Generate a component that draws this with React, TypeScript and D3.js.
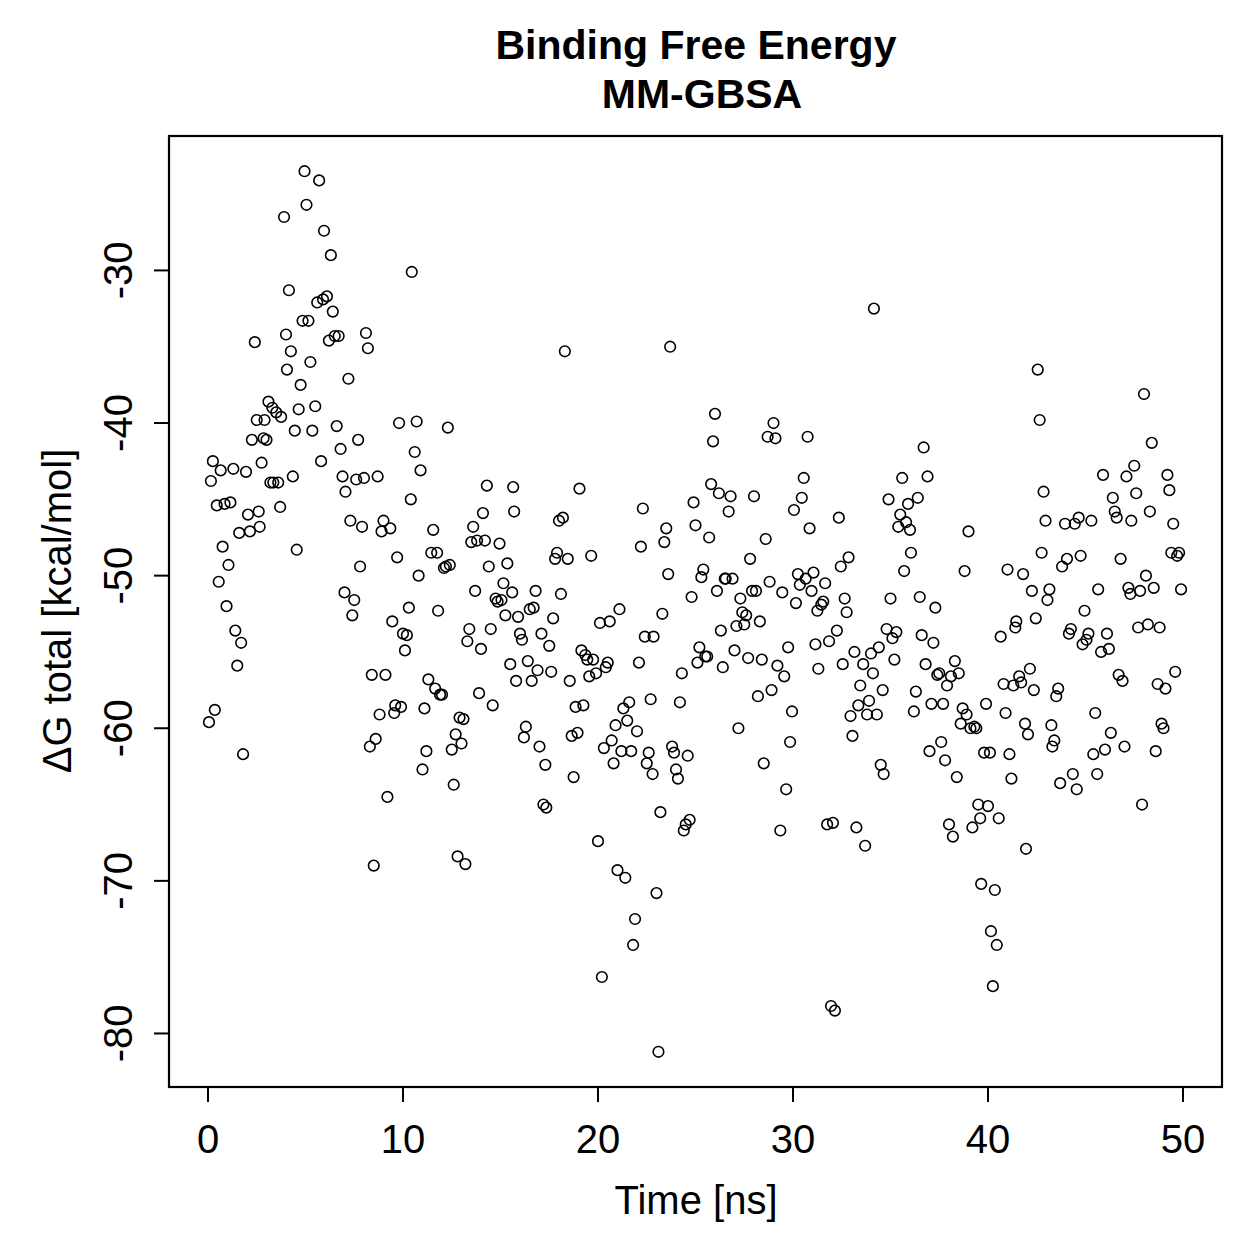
import React from "react";
import * as d3 from "d3";

// time (ns) and binding energy (kcal/mol)
const timeNs = [
  0.05, 0.15, 0.25, 0.35, 0.45, 0.55, 0.65, 0.75, 0.85, 0.95,
  1.05, 1.15, 1.3, 1.4, 1.5, 1.6, 1.7, 1.8, 1.95, 2.05,
  2.15, 2.25, 2.4, 2.5, 2.6, 2.65, 2.75, 2.85, 2.9, 3.0,
  3.1, 3.2, 3.3, 3.35, 3.5, 3.6, 3.7, 3.75, 3.9, 4.0,
  4.05, 4.15, 4.25, 4.35, 4.45, 4.55, 4.65, 4.75, 4.85, 4.95,
  5.05, 5.15, 5.25, 5.35, 5.5, 5.6, 5.7, 5.8, 5.9, 5.95,
  6.1, 6.2, 6.3, 6.4, 6.5, 6.6, 6.7, 6.8, 6.9, 7.0,
  7.05, 7.2, 7.3, 7.4, 7.5, 7.6, 7.7, 7.8, 7.9, 8.0,
  8.1, 8.2, 8.3, 8.4, 8.5, 8.6, 8.7, 8.8, 8.9, 9.0,
  9.1, 9.2, 9.35, 9.45, 9.55, 9.6, 9.7, 9.8, 9.9, 10.0,
  10.1, 10.2, 10.3, 10.4, 10.45, 10.6, 10.7, 10.8, 10.9, 11.0,
  11.1, 11.2, 11.3, 11.45, 11.55, 11.65, 11.75, 11.8, 11.9, 12.0,
  12.1, 12.2, 12.3, 12.4, 12.5, 12.6, 12.7, 12.8, 12.9, 13.0,
  13.1, 13.2, 13.3, 13.4, 13.5, 13.6, 13.7, 13.8, 13.9, 14.0,
  14.1, 14.2, 14.3, 14.4, 14.5, 14.6, 14.75, 14.85, 14.95, 15.05,
  15.15, 15.25, 15.35, 15.5, 15.6, 15.65, 15.7, 15.8, 15.9, 16.0,
  16.1, 16.2, 16.3, 16.4, 16.5, 16.6, 16.7, 16.8, 16.9, 17.0,
  17.1, 17.2, 17.3, 17.35, 17.5, 17.6, 17.7, 17.8, 17.9, 18.0,
  18.1, 18.2, 18.3, 18.45, 18.55, 18.65, 18.75, 18.85, 18.95, 19.05,
  19.15, 19.25, 19.35, 19.45, 19.55, 19.65, 19.75, 19.9, 20.0, 20.1,
  20.2, 20.3, 20.4, 20.5, 20.6, 20.7, 20.8, 20.9, 21.0, 21.1,
  21.2, 21.3, 21.4, 21.5, 21.6, 21.7, 21.8, 21.9, 22.0, 22.1,
  22.2, 22.3, 22.4, 22.5, 22.6, 22.7, 22.8, 22.85, 23.0, 23.1,
  23.2, 23.3, 23.4, 23.5, 23.6, 23.7, 23.8, 23.9, 24.0, 24.1,
  24.2, 24.3, 24.4, 24.5, 24.6, 24.7, 24.8, 24.9, 25.0, 25.1,
  25.2, 25.3, 25.4, 25.5, 25.6, 25.7, 25.8, 25.9, 26.0, 26.1,
  26.2, 26.3, 26.4, 26.5, 26.55, 26.7, 26.8, 26.9, 27.0, 27.1,
  27.2, 27.3, 27.4, 27.5, 27.6, 27.7, 27.8, 27.9, 28.0, 28.1,
  28.2, 28.3, 28.4, 28.5, 28.6, 28.7, 28.8, 28.9, 29.0, 29.1,
  29.2, 29.35, 29.45, 29.55, 29.65, 29.75, 29.85, 29.95, 30.05, 30.15,
  30.25, 30.35, 30.45, 30.55, 30.65, 30.75, 30.85, 30.95, 31.05, 31.15,
  31.25, 31.3, 31.45, 31.55, 31.65, 31.75, 31.85, 31.95, 32.05, 32.15,
  32.25, 32.35, 32.45, 32.55, 32.65, 32.75, 32.85, 32.95, 33.05, 33.15,
  33.25, 33.35, 33.45, 33.6, 33.7, 33.8, 33.9, 34.0, 34.1, 34.15,
  34.3, 34.4, 34.5, 34.6, 34.65, 34.8, 34.9, 35.0, 35.1, 35.2,
  35.3, 35.4, 35.5, 35.6, 35.7, 35.8, 35.9, 36.0, 36.05, 36.2,
  36.3, 36.4, 36.5, 36.6, 36.7, 36.8, 36.9, 37.0, 37.1, 37.2,
  37.3, 37.4, 37.5, 37.6, 37.7, 37.8, 37.9, 38.0, 38.1, 38.2,
  38.3, 38.4, 38.5, 38.6, 38.7, 38.8, 38.9, 39.0, 39.1, 39.2,
  39.3, 39.4, 39.5, 39.6, 39.65, 39.8, 39.9, 40.0, 40.1, 40.15,
  40.25, 40.35, 40.45, 40.55, 40.65, 40.8, 40.9, 41.0, 41.1, 41.2,
  41.3, 41.4, 41.45, 41.6, 41.7, 41.8, 41.9, 41.95, 42.05, 42.15,
  42.25, 42.35, 42.45, 42.55, 42.65, 42.75, 42.85, 42.95, 43.05, 43.15,
  43.25, 43.3, 43.4, 43.5, 43.6, 43.7, 43.8, 43.95, 44.05, 44.15,
  44.25, 44.35, 44.45, 44.55, 44.65, 44.75, 44.85, 44.95, 45.05, 45.15,
  45.3, 45.4, 45.5, 45.6, 45.65, 45.8, 45.9, 46.0, 46.1, 46.2,
  46.3, 46.4, 46.5, 46.6, 46.7, 46.8, 46.9, 47.0, 47.1, 47.2,
  47.3, 47.35, 47.5, 47.6, 47.7, 47.8, 47.9, 48.0, 48.1, 48.2,
  48.3, 48.4, 48.5, 48.6, 48.7, 48.8, 48.9, 49.0, 49.1, 49.2,
  49.3, 49.4, 49.5, 49.6, 49.7, 49.8, 49.9,
];

const deltaG = [
  -59.6, -43.8, -42.5, -58.8, -45.4, -50.4, -43.1, -48.1, -45.3, -52.0,
  -49.3, -45.2, -43.0, -53.6, -55.9, -47.2, -54.4, -61.7, -43.2, -46.0,
  -47.1, -41.1, -34.7, -39.8, -45.8, -46.8, -42.6, -41.0, -39.8, -41.1,
  -38.6, -43.9, -39.0, -43.9, -39.3, -43.9, -45.5, -39.6, -26.5, -34.2,
  -36.5, -31.3, -35.3, -43.5, -40.5, -48.3, -39.1, -37.5, -33.3, -23.5,
  -25.7, -33.3, -36.0, -40.5, -38.9, -32.1, -24.1, -42.5, -31.9, -27.4,
  -31.7, -34.6, -29.0, -32.7, -34.3, -40.2, -34.3, -41.7, -43.5, -51.1,
  -44.5, -37.1, -46.4, -52.6, -51.6, -43.7, -41.1, -49.4, -46.8, -43.6,
  -34.1, -35.1, -61.2, -56.5, -69.0, -60.7, -43.5, -59.1, -47.1, -46.4,
  -56.5, -64.5, -46.9, -53.0, -59.0, -58.5, -48.8, -40.0, -58.6, -53.8,
  -54.9, -53.9, -52.1, -45.0, -30.1, -41.9, -39.9, -50.0, -43.1, -62.7,
  -58.7, -61.5, -56.8, -48.5, -47.0, -57.4, -48.5, -52.3, -57.8, -57.8,
  -49.5, -49.4, -40.3, -49.3, -61.4, -63.7, -60.4, -68.4, -59.3, -61.0,
  -59.4, -68.9, -54.3, -53.5, -47.8, -46.8, -51.0, -47.7, -57.7, -54.8,
  -45.9, -47.7, -44.1, -49.4, -53.5, -58.5, -51.5, -51.7, -47.9, -51.6,
  -50.5, -52.6, -49.2, -55.8, -51.1, -44.2, -45.8, -56.9, -52.7, -53.8,
  -54.2, -60.6, -59.9, -55.6, -52.2, -56.9, -52.1, -51.0, -56.2, -61.2,
  -53.8, -65.0, -62.4, -65.2, -54.6, -56.3, -52.8, -48.9, -48.5, -46.4,
  -51.2, -46.2, -35.3, -48.9, -56.9, -60.5, -63.2, -58.6, -60.3, -44.3,
  -54.9, -58.5, -55.2, -55.5, -56.6, -48.7, -55.5, -56.4, -67.4, -53.1,
  -76.3, -61.3, -56.0, -55.7, -53.0, -60.8, -62.3, -59.8, -69.3, -52.2,
  -61.5, -58.7, -69.8, -59.5, -58.3, -61.5, -74.2, -72.5, -60.2, -55.7,
  -48.1, -45.6, -54.0, -62.3, -61.6, -58.1, -63.0, -54.0, -70.8, -81.2,
  -65.5, -52.5, -47.8, -46.9, -49.9, -35.0, -61.2, -61.6, -62.7, -63.3,
  -58.3, -56.4, -66.7, -66.3, -61.8, -66.0, -51.4, -45.2, -46.7, -55.7,
  -54.7, -50.1, -49.6, -55.3, -55.3, -47.5, -44.0, -41.2, -39.4, -51.0,
  -44.6, -53.6, -56.0, -50.2, -50.2, -45.8, -44.8, -50.2, -54.9, -53.3,
  -60.0, -51.5, -52.4, -53.2, -52.6, -55.4, -48.9, -51.0, -44.8, -51.0,
  -57.9, -53.0, -55.5, -62.3, -47.6, -40.9, -50.4, -57.5, -40.0, -41.0,
  -55.9, -66.7, -51.1, -56.6, -64.0, -54.7, -60.9, -58.9, -45.7, -51.8,
  -49.9, -50.6, -44.9, -43.6, -50.2, -40.9, -46.9, -51.0, -49.8, -54.5,
  -52.3, -56.1, -51.9, -51.7, -50.5, -66.3, -54.3, -78.2, -66.2, -78.5,
  -53.6, -46.2, -49.4, -55.8, -51.5, -52.4, -48.8, -59.2, -60.5, -55.0,
  -66.5, -58.5, -57.2, -55.8, -67.7, -59.1, -58.2, -55.1, -56.4, -32.5,
  -59.1, -54.7, -62.4, -57.5, -63.0, -53.5, -45.0, -51.5, -54.1, -55.5,
  -53.7, -46.8, -46.0, -43.6, -49.7, -46.5, -45.3, -47.0, -48.5, -58.9,
  -57.6, -44.9, -51.4, -53.9, -41.6, -55.8, -43.5, -61.5, -58.4, -54.4,
  -52.1, -56.5, -56.4, -60.9, -58.4, -62.1, -57.2, -66.3, -56.6, -67.1,
  -55.6, -63.2, -56.4, -59.7, -58.7, -49.7, -59.1, -47.1, -60.0, -66.5,
  -59.9, -60.0, -65.0, -65.9, -70.2, -61.6, -58.4, -65.1, -61.6, -73.3,
  -76.9, -70.6, -74.2, -65.9, -54.0, -57.1, -59.0, -49.6, -61.7, -63.3,
  -57.2, -53.4, -53.0, -56.6, -57.0, -49.9, -59.7, -67.9, -60.4, -56.1,
  -51.0, -57.5, -52.8, -36.5, -39.8, -48.5, -44.5, -46.4, -51.6, -50.9,
  -59.8, -61.2, -60.8, -57.9, -57.4, -63.6, -49.4, -46.6, -48.9, -53.8,
  -53.5, -63.0, -46.6, -64.0, -46.2, -48.7, -54.5, -52.3, -54.2, -53.8,
  -46.4, -61.7, -59.0, -63.0, -50.9, -55.0, -43.4, -61.4, -53.8, -54.8,
  -60.3, -44.9, -45.8, -46.2, -56.5, -48.9, -56.9, -61.2, -43.5, -50.8,
  -51.2, -46.4, -42.8, -44.6, -53.4, -51.0, -65.0, -38.1, -50.0, -53.2,
  -45.8, -41.3, -50.8, -61.5, -57.1, -53.4, -59.7, -60.0, -57.4, -43.4,
  -44.4, -48.5, -46.6, -56.3, -48.7, -48.5, -50.9,
];

const xTicks = [0, 10, 20, 30, 40, 50];
const yTicks = [-30, -40, -50, -60, -70, -80];

const W = 1259;
const H = 1259;
const box = { left: 169, right: 1222, top: 136, bottom: 1087 };
const font = "'Liberation Sans', Arial, Helvetica, sans-serif";

export default function App() {
  const n = Math.min(timeNs.length, deltaG.length);
  const points = d3.range(n).map((i) => ({ t: timeNs[i], g: deltaG[i] }));

  // R style: pad the range by 4%
  const xs = d3.scaleLinear().domain([-2, 52]).range([box.left, box.right]);
  const [gMin, gMax] = d3.extent(deltaG) as [number, number];
  const pad = (gMax - gMin) * 0.04;
  const ys = d3
    .scaleLinear()
    .domain([gMin - pad, gMax + pad])
    .range([box.bottom, box.top]);

  const tickLen = 15;

  return (
    <svg
      width={W}
      height={H}
      style={{ position: "absolute", left: 0, top: 0, background: "#fff" }}
      fontFamily={font}
    >
      <rect x={0} y={0} width={W} height={H} fill="#fff" />

      <text x={696} y={59} textAnchor="middle" fontSize={41} fontWeight="bold">
        Binding Free Energy
      </text>
      <text x={702} y={108} textAnchor="middle" fontSize={41} fontWeight="bold">
        MM-GBSA
      </text>

      <g fill="none" stroke="#000" strokeWidth={1.6}>
        {points.map((d, i) => (
          <circle key={i} cx={xs(d.t)} cy={ys(d.g)} r={5.3} />
        ))}
      </g>

      <rect
        x={box.left}
        y={box.top}
        width={box.right - box.left}
        height={box.bottom - box.top}
        fill="none"
        stroke="#000"
        strokeWidth={2.2}
      />

      {/* x axis */}
      <g stroke="#000" strokeWidth={2}>
        {xTicks.map((t) => (
          <line key={t} x1={xs(t)} x2={xs(t)} y1={box.bottom} y2={box.bottom + tickLen} />
        ))}
      </g>
      {xTicks.map((t) => (
        <text key={t} x={xs(t)} y={1153} textAnchor="middle" fontSize={40}>
          {t}
        </text>
      ))}
      <text x={696} y={1214} textAnchor="middle" fontSize={40}>
        Time [ns]
      </text>

      {/* y axis */}
      <g stroke="#000" strokeWidth={2}>
        {yTicks.map((v) => (
          <line key={v} x1={box.left - tickLen} x2={box.left} y1={ys(v)} y2={ys(v)} />
        ))}
      </g>
      {yTicks.map((v) => (
        <text
          key={v}
          transform={`translate(132,${ys(v)}) rotate(-90)`}
          textAnchor="middle"
          fontSize={40}
        >
          {v}
        </text>
      ))}
      <text
        transform={`translate(71,${611}) rotate(-90)`}
        textAnchor="middle"
        fontSize={40}
      >
        ΔG total [kcal/mol]
      </text>
    </svg>
  );
}
